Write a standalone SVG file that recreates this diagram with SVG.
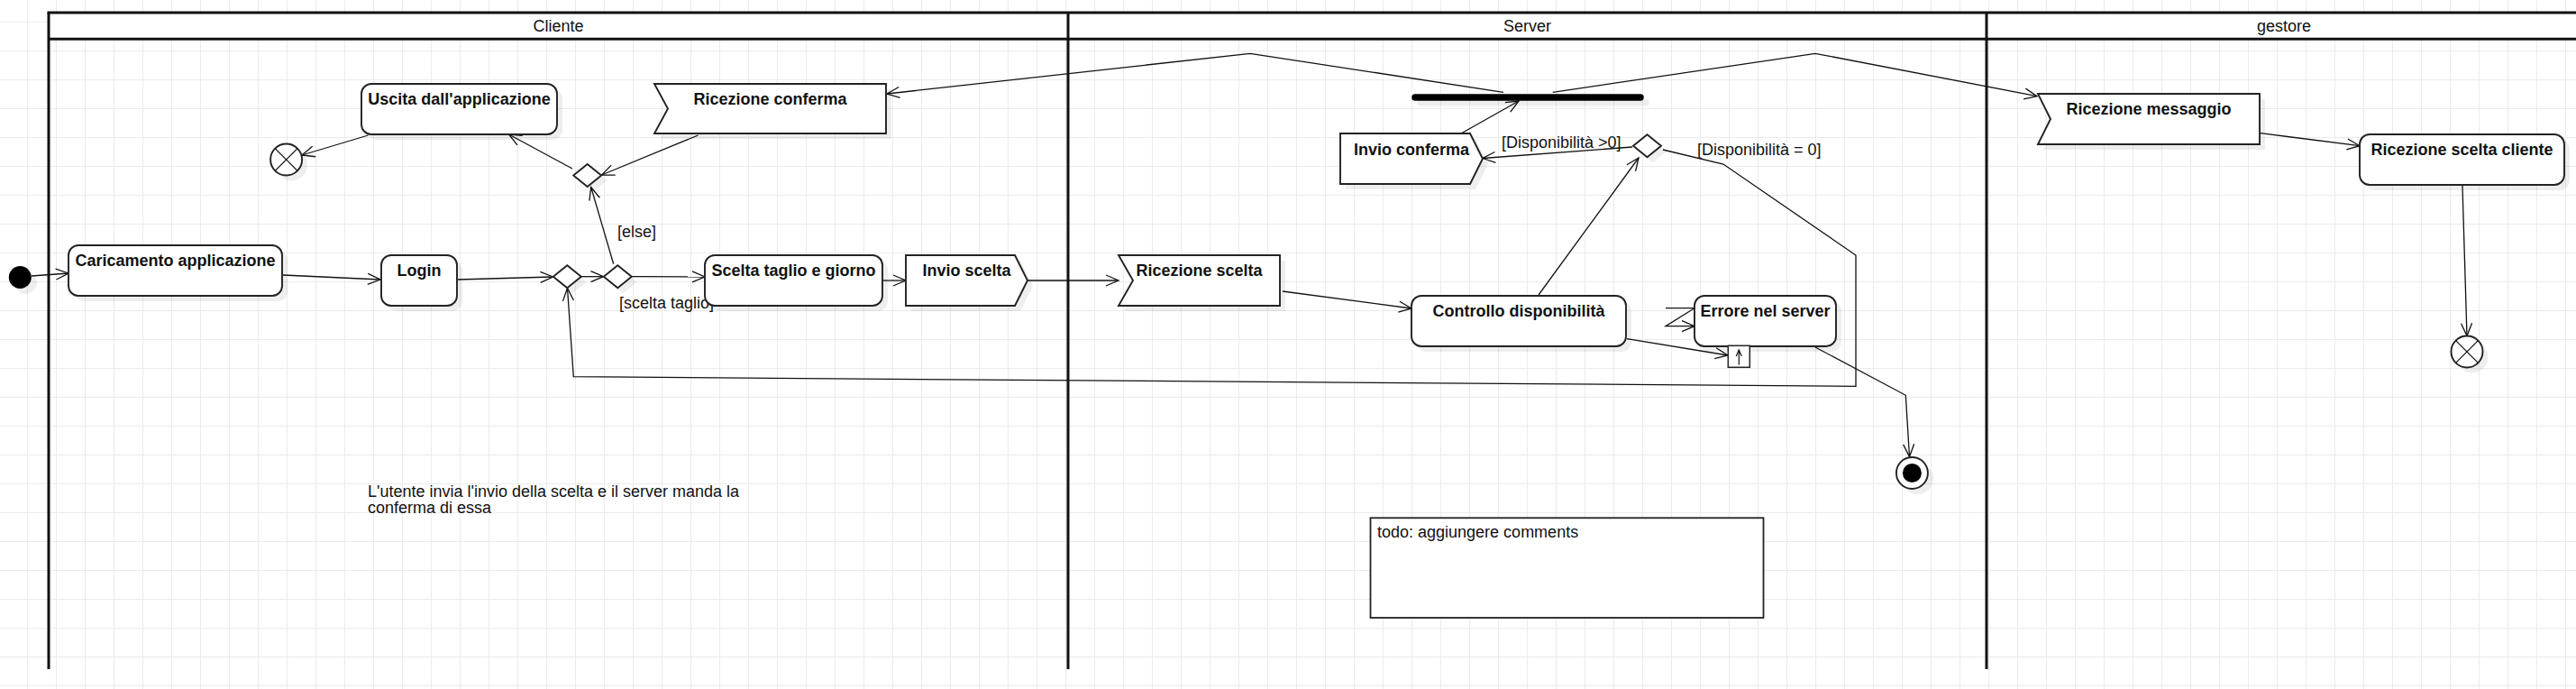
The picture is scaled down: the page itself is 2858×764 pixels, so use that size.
<svg xmlns="http://www.w3.org/2000/svg" width="2858" height="764" viewBox="0 0 2858 764">
<style>
.n{fill:#fff;stroke:#222;stroke-width:1.9}
.sh{fill:#000;fill-opacity:0.065;stroke:none}
.c{fill:none;stroke:#111;stroke-width:1.3;marker-end:url(#ah)}
.cn{fill:none;stroke:#111;stroke-width:1.3}
.lane{stroke:#111;stroke-width:3;fill:none}
.lb{font-family:"Liberation Sans",Arial,sans-serif;font-size:18px;font-weight:bold;text-anchor:middle;fill:#111}
.hd{font-family:"Liberation Sans",Arial,sans-serif;font-size:18px;text-anchor:middle;fill:#111}
.tx{font-family:"Liberation Sans",Arial,sans-serif;font-size:18px;fill:#111}
</style>
<defs>
<pattern id="grid" patternUnits="userSpaceOnUse" x="30" y="24" width="32" height="32">
<rect width="32" height="1" fill="#ebebeb"/><rect width="1" height="32" fill="#ebebeb"/>
</pattern>
<marker id="ah" markerUnits="userSpaceOnUse" markerWidth="18" markerHeight="14" refX="15" refY="7" orient="auto" overflow="visible">
<path d="M1,1 L15,7 L1,13" fill="none" stroke="#111" stroke-width="1.3"/>
</marker>
<marker id="ahs" markerUnits="userSpaceOnUse" markerWidth="10" markerHeight="10" refX="8" refY="4" orient="auto" overflow="visible">
<path d="M1,1 L8,4 L1,7" fill="none" stroke="#111" stroke-width="1.2"/>
</marker>
</defs>
<rect x="0" y="0" width="2858" height="764" fill="#fff"/>
<rect x="0" y="0" width="2858" height="764" fill="url(#grid)"/>
<g id="pool">
<rect x="54" y="14" width="2810" height="29.3" fill="#fff"/>
<line class="lane" x1="52.5" y1="14" x2="2860" y2="14"/>
<line class="lane" x1="54" y1="43.3" x2="2860" y2="43.3"/>
<line class="lane" x1="54" y1="14" x2="54" y2="742"/>
<line class="lane" x1="1185" y1="14" x2="1185" y2="742"/>
<line class="lane" x1="2204" y1="14" x2="2204" y2="742"/>
<text class="hd" x="619.5" y="35">Cliente</text>
<text class="hd" x="1694.5" y="35">Server</text>
<text class="hd" x="2534" y="35">gestore</text>
</g>
<g id="connectors">
<path class="c" d="M35,306 L76,303"/>
<path class="c" d="M314,305 L422,310"/>
<path class="c" d="M508,310 L613.5,307"/>
<path class="c" d="M645,306.7 L669.5,306.7"/>
<path class="c" d="M701,306.7 L782,307"/>
<path class="c" d="M979,311 L1005,311"/>
<path class="c" d="M1140,311 L1241,311"/>
<path class="c" d="M1423,323 L1566,342"/>
<path class="c" d="M1707,327 L1818,175"/>
<path class="c" d="M1811,163 L1645,175.5"/>
<path class="c" d="M1621,148 L1685,112"/>
<path class="c" d="M1668,102.3 L1387,59.3 L984,104"/>
<path class="c" d="M1722.7,102.3 L2014,59.3 L2260,106.7"/>
<path class="c" d="M1845,166 L1912,182 L2059,283 L2059,428.3 L636.3,417.7 L629.5,319.5"/>
<path class="c" d="M774.5,150 L667.5,194"/>
<path class="c" d="M680.7,292.7 L655.7,207.5"/>
<path class="c" d="M635,187 L564.5,149"/>
<path class="c" d="M408.5,150 L335,172"/>
<path class="c" d="M1805,375.7 L1917,394"/>
<path class="c" d="M1848,341.7 L1880,341.7 L1848,361.7 L1880,361.7"/>
<path class="c" d="M2014,385 L2114.3,438.3 L2118.5,506.5"/>
<path class="c" d="M2508,147.7 L2618,161.7"/>
<path class="c" d="M2732,206 L2737,372.5"/>
<text class="tx" x="685" y="263">[else]</text>
<text class="tx" x="687" y="342">[scelta taglio]</text>
<text class="tx" x="1666" y="164">[Disponibilità &gt;0]</text>
<text class="tx" x="1883" y="172">[Disponibilità = 0]</text>
</g>
<g id="initial">
<circle class="sh" cx="28.3" cy="313.5" r="12.5"/>
<circle cx="22.3" cy="307.5" r="12.5" fill="#000"/>
</g>
<g id="caricamento">
<rect class="sh" x="82" y="278" width="237" height="56" rx="11"/>
<rect class="n" x="76" y="272" width="237" height="56" rx="11"/>
<text class="lb" x="194.5" y="295">Caricamento applicazione</text>
</g>
<g id="login">
<rect class="sh" x="429" y="289" width="84" height="56" rx="11"/>
<rect class="n" x="423" y="283" width="84" height="56" rx="11"/>
<text class="lb" x="465" y="306">Login</text>
</g>
<g id="merge1">
<polygon class="sh" points="619.8,312.7 635.3,300.2 650.8,312.7 635.3,325.2"/>
<polygon class="n" points="613.8,306.7 629.3,294.2 644.8,306.7 629.3,319.2"/>
</g>
<g id="decision1">
<polygon class="sh" points="675.8,312.7 691.3,300.2 706.8,312.7 691.3,325.2"/>
<polygon class="n" points="669.8,306.7 685.3,294.2 700.8,306.7 685.3,319.2"/>
</g>
<g id="merge2">
<polygon class="sh" points="642.2,200.5 657.7,188 673.2,200.5 657.7,213"/>
<polygon class="n" points="636.2,194.5 651.7,182 667.2,194.5 651.7,207"/>
</g>
<g id="scelta">
<rect class="sh" x="788" y="289" width="197" height="56" rx="11"/>
<rect class="n" x="782" y="283" width="197" height="56" rx="11"/>
<text class="lb" x="880.5" y="306">Scelta taglio e giorno</text>
</g>
<g id="invio-scelta">
<polygon class="sh" points="1011,289 1132,289 1146,317 1132,345 1011,345"/>
<polygon class="n" points="1005,283 1126,283 1140,311 1126,339 1005,339"/>
<text class="lb" x="1072.5" y="306">Invio scelta</text>
</g>
<g id="ricezione-conferma">
<polygon class="sh" points="732,99 989,99 989,154 732,154 747,126.5"/>
<polygon class="n" points="726,93 983,93 983,148 726,148 741,120.5"/>
<text class="lb" x="854.5" y="116">Ricezione conferma</text>
</g>
<g id="uscita">
<rect class="sh" x="407" y="99" width="217" height="56" rx="11"/>
<rect class="n" x="401" y="93" width="217" height="56" rx="11"/>
<text class="lb" x="509.5" y="116">Uscita dall'applicazione</text>
</g>
<g id="flow-final-cliente">
<circle class="sh" cx="323.6" cy="183" r="17.5"/>
<circle class="n" cx="317.6" cy="177" r="17.5"/>
<path class="cn" d="M305.2,164.6 L330,189.4 M330,164.6 L305.2,189.4"/>
</g>
<g id="ricezione-scelta">
<polygon class="sh" points="1247,289 1426,289 1426,345 1247,345 1263,317"/>
<polygon class="n" points="1241,283 1420,283 1420,339 1241,339 1257,311"/>
<text class="lb" x="1330.5" y="306">Ricezione scelta</text>
</g>
<g id="controllo">
<rect class="sh" x="1572" y="334" width="238" height="56" rx="11"/>
<rect class="n" x="1566" y="328" width="238" height="56" rx="11"/>
<text class="lb" x="1685" y="351">Controllo disponibilità</text>
</g>
<g id="decision2">
<polygon class="sh" points="1818,167.7 1833.5,155.2 1849,167.7 1833.5,180.2"/>
<polygon class="n" points="1812,161.7 1827.5,149.2 1843,161.7 1827.5,174.2"/>
</g>
<g id="invio-conferma">
<polygon class="sh" points="1493,154 1637,154 1651,182 1637,210 1493,210"/>
<polygon class="n" points="1487,148 1631,148 1645,176 1631,204 1487,204"/>
<text class="lb" x="1566" y="171.5">Invio conferma</text>
</g>
<g id="fork">
<line x1="1576" y1="114" x2="1826" y2="114" stroke="#000" stroke-opacity="0.065" stroke-width="7.5" stroke-linecap="round"/>
<line x1="1570" y1="108" x2="1820" y2="108" stroke="#000" stroke-width="7.5" stroke-linecap="round"/>
</g>
<g id="errore">
<rect class="sh" x="1886" y="334" width="157" height="56" rx="11"/>
<rect class="n" x="1880" y="328" width="157" height="56" rx="11"/>
<text class="lb" x="1958.5" y="351">Errore nel server</text>
</g>
<g id="exception-pin">
<rect x="1917.3" y="383.3" width="24" height="24" fill="#fff" stroke="#222" stroke-width="1.5"/>
<line x1="1929.3" y1="404.5" x2="1929.3" y2="388" stroke="#111" stroke-width="1.2" marker-end="url(#ahs)"/>
</g>
<g id="activity-final">
<circle class="sh" cx="2127.4" cy="530.5" r="17.5"/>
<circle class="n" cx="2121.4" cy="524.5" r="17.5"/>
<circle cx="2121.4" cy="524.5" r="10.5" fill="#000"/>
</g>
<g id="ricezione-messaggio">
<polygon class="sh" points="2267,110 2513,110 2513,166 2267,166 2281,138"/>
<polygon class="n" points="2261,104 2507,104 2507,160 2261,160 2275,132"/>
<text class="lb" x="2384" y="127">Ricezione messaggio</text>
</g>
<g id="ricezione-scelta-cliente">
<rect class="sh" x="2624" y="155" width="227" height="56" rx="11"/>
<rect class="n" x="2618" y="149" width="227" height="56" rx="11"/>
<text class="lb" x="2731.5" y="172">Ricezione scelta cliente</text>
</g>
<g id="flow-final-gestore">
<circle class="sh" cx="2743" cy="396" r="17.5"/>
<circle class="n" cx="2737" cy="390" r="17.5"/>
<path class="cn" d="M2724.6,377.6 L2749.4,402.4 M2749.4,377.6 L2724.6,402.4"/>
</g>
<g id="note-text">
<text class="tx" x="408" y="550.5">L'utente invia l'invio della scelta e il server manda la</text>
<text class="tx" x="408" y="568.5">conferma di essa</text>
</g>
<g id="note-todo">
<rect x="1520.5" y="574.3" width="436" height="110.7" fill="#fff" stroke="#222" stroke-width="1.8"/>
<text class="tx" x="1528" y="596">todo: aggiungere comments</text>
</g>
</svg>
